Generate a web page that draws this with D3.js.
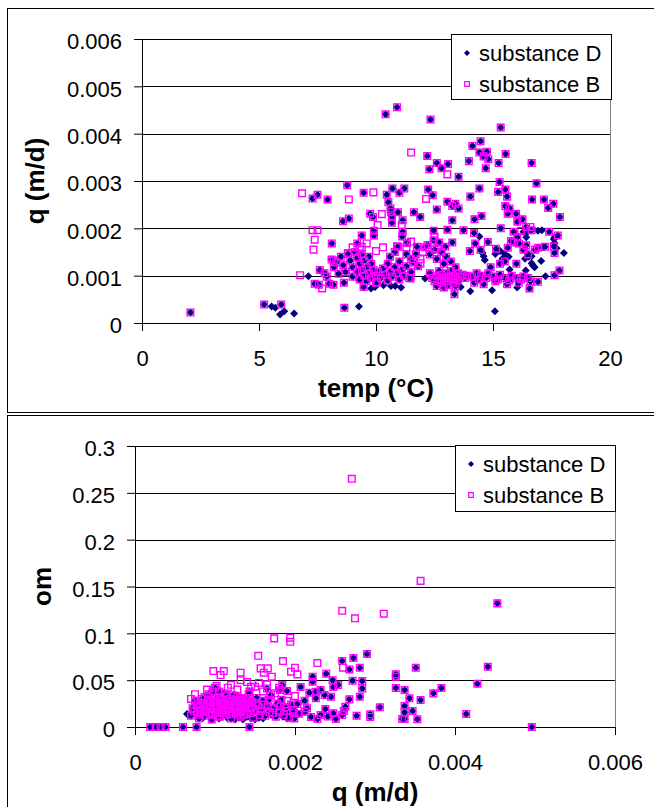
<!DOCTYPE html>
<html>
<head>
<meta charset="utf-8">
<script src="https://cdn.jsdelivr.net/npm/d3@7"></script>
<style>
    body { margin: 0; background: #fff; }
    svg text { font-family: "Liberation Sans", Arial, sans-serif; }
</style>
</head>
<body>
<div id="chart"></div>
<script>

// ---------- top chart: q (m/d) against temp (°C) ----------
// points measured for both substances (same q and temp)
var tempBoth = [
    [2.07,0.00022],[5.22,0.00039],[5.95,0.00039],[8.65,0.00032],
    [10.41,0.00441],[10.9,0.00456],[12.33,0.0043],[15.33,0.00413],
    [14.47,0.00384],[14.12,0.00374],[14.42,0.0036],[14.74,0.00362],[14.6,0.00352],[14.8,0.00346],
    [12.19,0.00353],[15.54,0.00357],[12.6,0.00338],[13.08,0.00336],[15.24,0.00338],[16.65,0.00338],
    [14.69,0.00327],[12.28,0.00325],[12.8,0.00327],[13.97,0.00342],[13.53,0.00309],
    [8.77,0.00291],[15.28,0.00298],[16.86,0.00295],
    [10.7,0.00284],[11.21,0.00284],[12.23,0.00282],[14.42,0.00284],[15.53,0.00282],
    [9.47,0.00275],[11.0,0.00275],[7.5,0.00271],[10.46,0.00271],[12.42,0.0027],[14.03,0.00267],[15.22,0.00277],
    [7.29,0.00263],[7.93,0.00261],[16.67,0.00261],[17.18,0.00261],[15.6,0.00267],
    [10.53,0.00255],[13.05,0.00256],[13.4,0.00252],[13.26,0.00247],[17.58,0.00252],[17.36,0.00243],
    [13.53,0.00242],[15.53,0.00247],[15.71,0.00242],[10.62,0.00242],[12.6,0.0024],
    [10.64,0.00234],[10.94,0.00234],[11.62,0.00234],[15.63,0.00231],[15.99,0.00231],[9.75,0.00231],
    [9.87,0.00224],[11.89,0.00224],[14.51,0.00226],[17.86,0.00224],[10.68,0.00224],
    [8.84,0.00221],[8.59,0.00215],[11.14,0.00217],[13.26,0.00217],[14.21,0.00219],[16.26,0.00219],[16.04,0.00214],[10.68,0.00212],
    [16.42,0.00203],[13.05,0.00197],[12.46,0.00195],[15.33,0.002],[13.74,0.00196],[9.91,0.00195],[11.14,0.00193],[16.65,0.00196],
    [15.88,0.00193],[17.4,0.00193],[14.19,0.0019],[9.39,0.00185],[9.91,0.00185],[17.77,0.00185],[16.04,0.00181],[11.12,0.00183],
    [12.46,0.00175],[14.78,0.00171],[15.77,0.00173],[13.26,0.0017],[8.11,0.00168],[11.32,0.00169],[17.6,0.00162],[16.11,0.00168],
    [9.2,0.00168],[14.24,0.00168],[16.42,0.00164],[17.22,0.00161],
    [10.94,0.00161],[11.75,0.00161],[12.96,0.00161],[15.13,0.00157],[15.63,0.00159],[16.92,0.00159],[14.47,0.00154],[14.01,0.00152],[17.63,0.00148],
    [17.84,0.00111],[17.63,0.00101],[16.92,0.00087],[16.56,0.00073],[13.35,0.00061],
    [7.38,0.00083],[7.56,0.00081],[8.0,0.00083],[8.18,0.00081],[8.63,0.00085],[9.47,0.00076],[11.48,0.00094],[10.05,0.00086],
    [7.6,0.00112],[7.8,0.00105],[7.9,0.00098],[8.1,0.00134],[8.2,0.00118],[8.3,0.00128],[8.4,0.00104],[8.5,0.0014],
    [8.6,0.00122],[8.7,0.00108],[8.8,0.00146],[8.9,0.00132],[9.0,0.00118],[9.0,0.00098],[9.1,0.0015],[9.2,0.00138],
    [9.2,0.00108],[9.3,0.00125],[9.3,0.00092],[9.4,0.00145],[9.4,0.00112],[9.5,0.00132],[9.5,0.001],[9.6,0.00118],
    [9.6,0.00088],[9.7,0.0014],[9.7,0.00105],[9.8,0.00095],[9.8,0.00125],[9.9,0.00112],[10.0,0.001],[10.0,0.00085],
    [10.1,0.00108],[10.2,0.00095],[10.3,0.00115],[10.4,0.00102],[10.5,0.00125],[10.5,0.0009],[10.6,0.0014],[10.6,0.00108],
    [10.7,0.00098],[10.8,0.00118],[10.8,0.0015],[10.9,0.00105],[11.0,0.00092],[11.0,0.0013],[11.1,0.00112],[11.2,0.001],
    [11.3,0.00145],[11.3,0.0012],[11.4,0.00095],[11.5,0.00135],[11.5,0.00108],[11.6,0.00128],[11.7,0.00145],[11.8,0.0012],
    [12.3,0.00105],[12.4,0.00095],[12.5,0.00088],[12.6,0.001],[12.6,0.00078],[12.7,0.00092],[12.7,0.0011],[12.8,0.00085],
    [12.8,0.00102],[12.9,0.00095],[12.9,0.00075],[13.0,0.00088],[13.0,0.00105],[13.1,0.0008],[13.1,0.00098],[13.2,0.00092],
    [13.2,0.0011],[13.3,0.00085],[13.3,0.001],[13.4,0.00095],[13.4,0.00078],[13.5,0.00105],[13.5,0.0009],[13.6,0.00098],
    [13.7,0.00102],[13.8,0.00095],[13.9,0.001],
    [14.1,0.00098],[14.3,0.00105],[14.4,0.00092],[14.5,0.001],[14.7,0.00095],[14.8,0.00105],[15.0,0.00098],[15.2,0.00092],
    [15.3,0.00102],[15.5,0.00095],[15.7,0.0009],[15.8,0.001],[16.0,0.00095],[16.2,0.00092],[16.3,0.00098],[16.5,0.00095],
    [16.6,0.00088],[14.2,0.00085],[14.6,0.00082],[15.1,0.00088],[15.6,0.00082],[16.1,0.00085],
    [12.1,0.0016],[12.3,0.00145],[12.5,0.00155],[12.6,0.00135],[12.8,0.0015],[12.9,0.00125],[13.0,0.0014],[13.2,0.0013],
    [13.4,0.00118],[12.2,0.00165],[12.7,0.0017],
    [15.9,0.0017],[16.3,0.00155],[16.5,0.00145],[16.8,0.00155],[15.5,0.0013],[15.3,0.00125],[14.9,0.00118],[16.0,0.00125]
];
// substance D only
var tempOnlyD = [
    [5.54,0.00035],[5.7,0.00032],[5.9,0.00018],[6.08,0.00025],[6.5,0.0002],[9.27,0.00035],[15.08,0.00025],
    [16.92,0.00195],[17.09,0.00196],[16.3,0.00193],[14.42,0.00183],[16.42,0.00181],[17.63,0.00181],[17.63,0.00169],[17.72,0.00158],
    [15.31,0.00152],[15.49,0.00147],[15.67,0.0014],[14.55,0.00148],[14.6,0.00141],[14.65,0.00133],[16.53,0.0014],[16.65,0.00141],
    [16.37,0.00136],[18.03,0.00148],[17.06,0.00131],[16.65,0.00126],[16.78,0.00118],[15.71,0.00113],[16.4,0.00111],[17.24,0.00099],
    [16.03,0.00075],[14.96,0.00069],[14.03,0.00067],[12.46,0.00096],[12.1,0.00094],[13.53,0.0009],[13.62,0.00076],
    [9.79,0.00073],[9.96,0.00076],[10.32,0.0008],[10.64,0.00078],[10.82,0.00078],[11.07,0.00075],[7.11,0.00099],
    [16.47,0.00192],[16.7,0.00122],[17.15,0.0016],[17.6,0.00177],[15.1,0.00146],[15.4,0.00136]
];
// substance B only
var tempOnlyB = [
    [11.5,0.0036],[13.05,0.00314],[6.84,0.00274],[9.89,0.00276],[8.84,0.00261],[12.14,0.00262],[10.07,0.00207],[11.1,0.00207],
    [10.25,0.0023],[7.29,0.00196],[7.5,0.00196],[7.38,0.00176],[9.39,0.00161],[7.33,0.00155],[6.76,0.00101],[7.7,0.00073],
    [8.8,0.00148],[9.0,0.0016],[9.3,0.00155],[9.6,0.00168],[10.0,0.00152],[10.3,0.0016],[10.9,0.00162],[11.3,0.0016],
    [11.5,0.00172],[8.2,0.00132],[11.9,0.00126],[12.0,0.0015],[11.9,0.00135],[12.5,0.00182],[12.6,0.00158],[16.6,0.00203],[16.2,0.00195]
];

// ---------- bottom chart: om against q (m/d) ----------
var qBoth = [
    [0.00019,0],[0.00026,0],[0.00032,0],[0.00038,0],[0.0006,0],[0.00077,0],[0.00143,0],[0.00496,0],
    [0.00453,0.132],[0.0029,0.078],[0.00273,0.0736],[0.00259,0.0704],[0.00268,0.0615],[0.00281,0.0633],[0.00351,0.0633],[0.00441,0.0643],
    [0.00326,0.0562],[0.00326,0.0537],[0.00222,0.0537],[0.00239,0.0569],[0.00247,0.0498],[0.00272,0.0494],[0.00284,0.049],[0.00222,0.0483],
    [0.00254,0.0448],[0.00248,0.0427],[0.00207,0.0427],[0.00184,0.0448],[0.00284,0.0412],[0.00326,0.0416],[0.00337,0.0395],[0.00383,0.0416],
    [0.00373,0.0359],[0.00428,0.0462],
    [0.00232,0.0395],[0.00226,0.0377],[0.00218,0.0366],[0.00165,0.0412],[0.0019,0.0384],[0.00181,0.0395],[0.00237,0.0341],[0.00245,0.0323],
    [0.00281,0.0323],[0.00268,0.0295],[0.00343,0.0306],[0.00357,0.0288],[0.00226,0.0306],[0.00212,0.0281],
    [0.00306,0.021],[0.00337,0.0224],[0.00347,0.0171],[0.00337,0.0156],[0.00414,0.0139],[0.00294,0.0135],[0.00277,0.0121],[0.00294,0.0107],
    [0.00337,0.0085],[0.00353,0.0082],[0.00334,0.0085],[0.00261,0.0171],[0.00263,0.0217],[0.00248,0.0146],[0.00259,0.0128],[0.00251,0.0085],
    [0.00228,0.0085],[0.00212,0.0164],[0.00232,0.0128],[0.00238,0.0192],[0.00215,0.02],[0.0022,0.0107],[0.00241,0.0112],[0.00205,0.0142],
    [0.00199,0.0092],[0.00198,0.0185],[0.00203,0.0245],
    [0.0007,0.012],[0.00072,0.02],[0.00075,0.028],[0.00078,0.015],[0.0008,0.009],[0.00082,0.022],[0.00084,0.03],[0.00086,0.017],
    [0.00088,0.012],[0.0009,0.025],[0.00092,0.035],[0.00094,0.019],[0.00096,0.008],[0.00098,0.028],[0.001,0.015],[0.001,0.042],
    [0.00102,0.022],[0.00104,0.032],[0.00106,0.011],[0.00108,0.026],[0.0011,0.018],[0.00112,0.036],[0.00114,0.013],[0.00116,0.024],
    [0.00118,0.03],[0.0012,0.009],[0.00122,0.02],[0.00124,0.027],[0.00126,0.015],[0.00128,0.033],[0.0013,0.022],[0.00132,0.011],
    [0.00134,0.018],[0.00136,0.029],[0.00138,0.024],[0.0014,0.014],[0.00142,0.035],[0.00144,0.02],[0.00146,0.027],[0.00148,0.01],
    [0.0015,0.017],[0.00152,0.031],[0.00154,0.023],[0.00156,0.013],[0.00158,0.019],[0.0016,0.028],[0.00163,0.012],[0.00166,0.022],
    [0.00168,0.016],[0.0017,0.034],[0.00173,0.02],[0.00176,0.011],[0.00178,0.025],[0.0018,0.016],[0.00183,0.029],[0.00186,0.013],
    [0.00188,0.021],[0.0019,0.017],[0.00193,0.01],[0.00195,0.024],[0.00198,0.015],
    [0.00079,0.025],[0.00083,0.018],[0.00087,0.032],[0.00089,0.021],[0.00093,0.014],[0.00095,0.027],[0.00097,0.038],[0.00099,0.02],
    [0.00101,0.03],[0.00103,0.016],[0.00105,0.038],[0.00107,0.02],[0.00109,0.029],[0.00111,0.024],[0.00113,0.017],[0.00115,0.033],
    [0.00117,0.021],[0.00119,0.014],[0.00121,0.028],[0.00123,0.034],[0.00125,0.019],[0.00127,0.024],[0.00129,0.013],[0.00131,0.027],
    [0.00133,0.031],[0.00135,0.021],[0.00137,0.016],[0.00139,0.03],[0.00141,0.025],[0.00143,0.038],[0.00145,0.015],
    [0.00074,0.017],[0.00077,0.023],[0.00081,0.013],[0.00085,0.026],[0.00088,0.016],[0.00091,0.029],[0.00094,0.023],[0.00097,0.013],
    [0.001,0.025],[0.00103,0.012],[0.00106,0.029],[0.00109,0.015],[0.00112,0.027],[0.00115,0.019],[0.00118,0.024],[0.00121,0.016],
    [0.00124,0.023],[0.00127,0.029],[0.0013,0.017],[0.00133,0.025],[0.00136,0.013],[0.00139,0.02],[0.00142,0.028],[0.00147,0.022],
    [0.00151,0.026],[0.00157,0.017],[0.00162,0.024],[0.00167,0.029],[0.00172,0.015],[0.00182,0.022]
];
var qOnlyD = [
    [0.00065,0.014],[0.00068,0.013],[0.00085,0.01],[0.00095,0.012],[0.00105,0.009],[0.00115,0.01],[0.00125,0.008],[0.0013,0.01],
    [0.00135,0.008],[0.0014,0.011],[0.00145,0.009],[0.0015,0.008],[0.00155,0.01],[0.0016,0.009],[0.0017,0.013],[0.00175,0.018],
    [0.00185,0.011],[0.0019,0.009],[0.00194,0.012]
];
var qOnlyB = [
    [0.00271,0.265],[0.00357,0.156],[0.00259,0.124],[0.00275,0.116],[0.00311,0.121],[0.00174,0.0946],[0.00194,0.0953],[0.00194,0.091],
    [0.00154,0.076],[0.00185,0.0704],[0.00228,0.0683],[0.00098,0.0597],[0.00111,0.0597],[0.00107,0.0555],[0.00132,0.058],[0.00157,0.0626],
    [0.00166,0.0626],[0.00161,0.058],[0.00171,0.0537],[0.002,0.0633],[0.00203,0.0562],[0.00195,0.059],[0.0026,0.0633],[0.00165,0.0455],
    [0.0014,0.048],[0.00132,0.05],[0.0012,0.045],[0.0015,0.043],[0.0007,0.03],[0.00075,0.035],[0.0009,0.04],[0.00102,0.044],
    [0.00116,0.042],[0.00128,0.04],[0.00145,0.043],[0.00155,0.047],[0.0018,0.042],[0.00175,0.036],[0.0016,0.038],[0.002,0.033],[0.0019,0.028]
];

// ticks and labels
var tempTicks = [0, 5, 10, 15, 20];
var qTicks = [0, 0.001, 0.002, 0.003, 0.004, 0.005, 0.006];
var qAxisTicks = [0, 0.002, 0.004, 0.006];
var omTicks = [0, 0.05, 0.1, 0.15, 0.2, 0.25, 0.3];
var seriesNames = ["substance D", "substance B"];
var colorD = "#000080", colorB = "#FF00FF";

var svg = d3.select("#chart").append("svg")
    .attr("width", 654)
    .attr("height", 807);

svg.append("rect").attr("width", 654).attr("height", 807).attr("fill", "#fff");

var diamond = d3.symbol().type(d3.symbolSquare).size(32);
var square = d3.symbol().type(d3.symbolSquare).size(44);
var fmt = d3.format("~g");

function drawPanel(p) {
    var g = svg.append("g");

    // chart border
    g.append("rect")
        .attr("x", 7.5).attr("y", p.boxTop + 0.5)
        .attr("width", 700).attr("height", p.boxHeight)
        .attr("fill", "#fff").attr("stroke", "#000");

    var x = d3.scaleLinear().domain(p.xDomain).range([p.left, p.right]);
    var y = d3.scaleLinear().domain(p.yDomain).range([p.bottom, p.top]);

    // plot area border
    g.append("rect")
        .attr("x", p.left + 0.5).attr("y", Math.round(p.top) + 0.5)
        .attr("width", p.right - p.left).attr("height", Math.round(p.bottom) - Math.round(p.top))
        .attr("fill", "none").attr("stroke", "#808080");

    // gridlines
    g.selectAll(".grid").data(p.yTicks.slice(1))
        .enter().append("line")
        .attr("x1", p.left).attr("x2", p.right)
        .attr("y1", d => Math.round(y(d)) + 0.5).attr("y2", d => Math.round(y(d)) + 0.5)
        .attr("stroke", "#000");

    // axes
    var yAxis = g.append("g")
        .attr("transform", "translate(" + p.left + ",0)")
        .call(d3.axisLeft(y).tickValues(p.yTicks).tickFormat(fmt).tickSize(8).tickPadding(12));
    var xAxis = g.append("g")
        .attr("transform", "translate(0," + Math.round(p.bottom) + ")")
        .call(d3.axisBottom(x).tickValues(p.xTicks).tickFormat(fmt).tickSize(8).tickPadding(19));
    [yAxis, xAxis].forEach(a => {
        a.select(".domain").attr("stroke", "#000");
        a.selectAll(".tick line").attr("stroke", "#000");
        a.selectAll("text").attr("font-size", 22).attr("fill", "#000").attr("font-family", null);
    });
    yAxis.selectAll("text").attr("dy", "0.44em");

    // points: substance D below, substance B on top
    var dataD = p.both.concat(p.onlyD);
    var dataB = p.both.concat(p.onlyB);

    g.selectAll(".ptD").data(dataD)
        .enter().append("path")
        .attr("d", diamond)
        .attr("transform", d => "translate(" + x(d[0]) + "," + y(d[1]) + ") rotate(45)")
        .attr("fill", colorD);

    g.selectAll(".ptB").data(dataB)
        .enter().append("path")
        .attr("d", square)
        .attr("transform", d => "translate(" + x(d[0]) + "," + y(d[1]) + ")")
        .attr("fill", "none")
        .attr("stroke", colorB)
        .attr("stroke-width", 1.4);

    // axis titles
    g.append("text")
        .text(p.xTitle)
        .attr("x", (p.left + p.right) / 2).attr("y", p.xTitleY)
        .attr("text-anchor", "middle")
        .attr("font-size", 26).attr("font-weight", "bold");
    g.append("text")
        .text(p.yTitle)
        .attr("transform", "translate(" + p.yTitleX + "," + (p.top + p.bottom) / 2 + ") rotate(-90)")
        .attr("text-anchor", "middle")
        .attr("font-size", 26).attr("font-weight", "bold");

    // legend
    var lg = g.append("g").attr("transform", "translate(" + p.legend[0] + "," + p.legend[1] + ")");
    lg.append("rect")
        .attr("x", 0.5).attr("y", 0.5)
        .attr("width", 160).attr("height", p.legend[2])
        .attr("fill", "#fff").attr("stroke", "#000");
    lg.append("path")
        .attr("d", d3.symbol().type(d3.symbolSquare).size(18))
        .attr("transform", "translate(16,19) rotate(45)")
        .attr("fill", colorD);
    lg.append("path")
        .attr("d", d3.symbol().type(d3.symbolSquare).size(22))
        .attr("transform", "translate(16,50)")
        .attr("fill", "none").attr("stroke", colorB).attr("stroke-width", 1.2);
    lg.selectAll(".ltext").data(seriesNames)
        .enter().append("text")
        .text(d => d)
        .attr("x", 28)
        .attr("y", (d, i) => 27 + i * 30.5)
        .attr("font-size", 22);
}

drawPanel({
    boxTop: 8, boxHeight: 404,
    left: 142, right: 610, top: 39, bottom: 323,
    xDomain: [0, 20], yDomain: [0, 0.006],
    xTicks: tempTicks, yTicks: qTicks,
    both: tempBoth, onlyD: tempOnlyD, onlyB: tempOnlyB,
    xTitle: "temp (°C)", xTitleY: 397,
    yTitle: "q (m/d)", yTitleX: 44,
    legend: [451, 34, 65]
});

drawPanel({
    boxTop: 415, boxHeight: 500,
    left: 135, right: 615, top: 446, bottom: 727,
    xDomain: [0, 0.006], yDomain: [0, 0.3],
    xTicks: qAxisTicks, yTicks: omTicks,
    both: qBoth, onlyD: qOnlyD, onlyB: qOnlyB,
    xTitle: "q (m/d)", xTitleY: 801,
    yTitle: "om", yTitleX: 51,
    legend: [455, 445, 66]
});

</script>
</body>
</html>
